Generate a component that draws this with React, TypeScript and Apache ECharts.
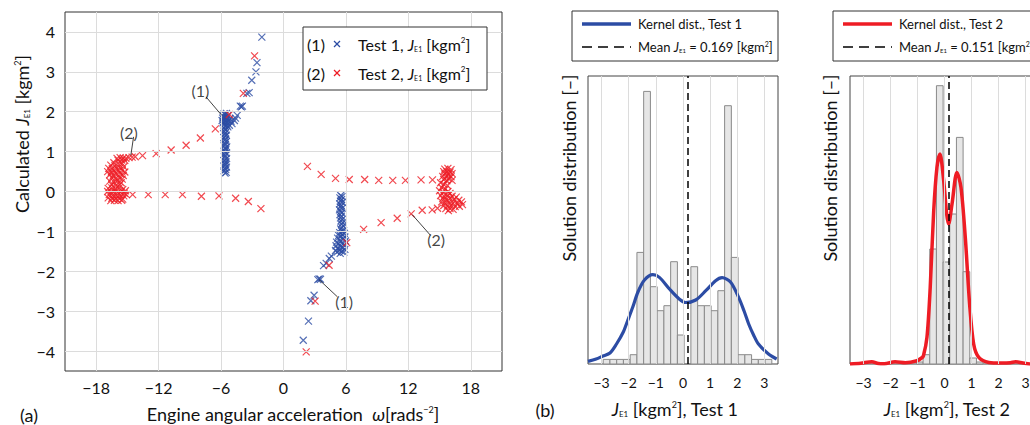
import React, { useEffect, useRef } from 'react';
import * as echarts from 'echarts';

const FONT = 'Lato, "Noto Sans", sans-serif';
const BLUE = '#2c4ca4';
const RED = '#ee1c24';
const INK = '#111111';

// ---------- panel (a) ----------
const xTicksA = [-18, -12, -6, 0, 6, 12, 18];
const yTicksA = [-4, -3, -2, -1, 0, 1, 2, 3, 4];

const test1Points = [
  // cluster near -6 (band)
  [-5.62, 0.46], [-5.5, 0.48], [-5.7, 0.52], [-5.55, 0.55], [-5.66, 0.58], [-5.48, 0.61], [-5.72, 0.64], [-5.58, 0.67],
  [-5.64, 0.71], [-5.52, 0.74], [-5.69, 0.77], [-5.57, 0.8], [-5.47, 0.83], [-5.66, 0.86], [-5.59, 0.9], [-5.73, 0.93],
  [-5.51, 0.96], [-5.63, 0.99], [-5.68, 1.03], [-5.54, 1.06], [-5.61, 1.09], [-5.46, 1.12], [-5.71, 1.15], [-5.58, 1.18],
  [-5.65, 1.22], [-5.5, 1.25], [-5.67, 1.28], [-5.56, 1.31], [-5.74, 1.35], [-5.6, 1.38], [-5.49, 1.41], [-5.66, 1.44],
  [-5.57, 1.47], [-5.7, 1.51], [-5.53, 1.54], [-5.63, 1.57], [-5.76, 1.6], [-5.58, 1.63], [-5.45, 1.66], [-5.68, 1.69],
  // top of band
  [-5.82, 1.72], [-5.62, 1.74], [-5.4, 1.73], [-5.9, 1.78], [-5.72, 1.8], [-5.5, 1.79], [-5.28, 1.77], [-5.85, 1.84],
  [-5.65, 1.86], [-5.45, 1.85], [-5.15, 1.83], [-5.78, 1.9], [-5.58, 1.92], [-5.35, 1.9], [-5.7, 1.95], [-5.48, 1.96],
  [-5.05, 1.76], [-4.95, 1.7], [-5.2, 1.66], [-5.35, 1.62],
  // upper-right tail
  [-4.72, 1.78], [-4.62, 1.84], [-4.45, 1.91], [-4.15, 2.14], [-4.05, 2.12], [-3.95, 2.14], [-3.52, 2.46], [-3.3, 2.48],
  [-3.05, 2.79], [-2.65, 3.0], [-2.55, 3.23], [-2.08, 3.87],
  // cluster near +6 (band)
  [5.5, -0.1], [5.62, -0.13], [5.42, -0.16], [5.58, -0.2], [5.48, -0.24], [5.66, -0.27], [5.4, -0.31], [5.55, -0.35],
  [5.45, -0.39], [5.63, -0.42], [5.38, -0.46], [5.52, -0.5], [5.6, -0.54], [5.42, -0.58], [5.56, -0.62], [5.48, -0.66],
  [5.65, -0.7], [5.52, -0.74], [5.7, -0.78], [5.58, -0.82], [5.75, -0.86], [5.62, -0.9], [5.5, -0.94],
  [5.78, -0.98], [5.6, -1.0], [5.4, -1.03], [5.85, -1.05], [5.68, -1.08], [5.3, -1.1], [5.5, -1.12], [5.9, -1.14],
  [5.2, -1.17], [5.72, -1.19], [5.42, -1.22], [5.95, -1.24], [5.1, -1.27], [5.6, -1.29], [5.3, -1.31], [5.82, -1.34],
  [5.05, -1.36], [5.48, -1.38], [5.7, -1.41], [5.2, -1.43], [5.9, -1.45], [5.38, -1.47], [5.0, -1.48], [5.6, -1.5],
  [5.8, -1.52], [5.15, -1.52], [5.45, -1.55],
  // lower-left tail
  [4.6, -1.62], [4.4, -1.68], [4.1, -1.8], [3.85, -1.86], [3.55, -2.2], [3.42, -2.19], [3.3, -2.21], [2.94, -2.6],
  [2.63, -2.74], [2.4, -3.25], [1.9, -3.73],
];

const test2Points = [
  // left cluster
  [-16.0, 0.83], [-15.7, 0.85], [-15.4, 0.84], [-15.15, 0.83], [-15.9, 0.78], [-15.55, 0.79], [-15.25, 0.78],
  [-16.3, 0.72], [-16.6, 0.66], [-16.2, 0.65], [-15.8, 0.68], [-15.5, 0.7], [-16.8, 0.58], [-16.45, 0.57],
  [-16.05, 0.58], [-15.7, 0.6], [-15.35, 0.62], [-16.9, 0.5], [-16.55, 0.49], [-16.2, 0.5], [-15.85, 0.52],
  [-15.5, 0.53], [-15.25, 0.49], [-16.7, 0.42], [-16.35, 0.41], [-16.0, 0.43], [-15.65, 0.44], [-15.4, 0.4],
  [-16.5, 0.34], [-16.15, 0.33], [-15.8, 0.35], [-15.5, 0.31], [-16.7, 0.26], [-16.3, 0.24], [-15.95, 0.27],
  [-15.6, 0.22], [-16.5, 0.17], [-16.1, 0.15], [-15.75, 0.17], [-16.85, 0.08], [-16.5, 0.09], [-16.15, 0.07],
  [-15.8, 0.09], [-15.45, 0.05], [-15.2, 0.02], [-16.9, 0.0], [-16.6, -0.01], [-16.3, 0.0], [-15.95, -0.02],
  [-15.6, -0.01], [-15.3, -0.04], [-16.75, -0.08], [-16.4, -0.09], [-16.05, -0.1], [-15.7, -0.09], [-15.35, -0.11],
  [-15.1, -0.08], [-16.85, -0.16], [-16.5, -0.17], [-16.15, -0.18], [-15.8, -0.17], [-15.45, -0.19], [-16.6, -0.23],
  [-16.25, -0.22], [-15.9, -0.23], [-15.55, -0.22],
  // upper tail from left cluster
  [-14.85, 0.85], [-14.55, 0.86], [-14.25, 0.87], [-13.55, 0.9], [-12.24, 0.95], [-10.8, 1.04], [-9.36, 1.16],
  [-7.99, 1.34], [-6.55, 1.57], [-5.21, 1.93], [-3.86, 2.46], [-2.78, 3.4],
  // lower tail from left cluster
  [-14.5, -0.08], [-13.0, -0.08], [-11.37, -0.08], [-9.71, -0.08], [-7.89, -0.12], [-6.2, -0.11], [-4.6, -0.17],
  [-3.38, -0.25], [-2.17, -0.43],
  // upper row to right cluster
  [2.3, 0.63], [3.62, 0.43], [5.0, 0.33], [6.32, 0.3], [7.8, 0.3], [9.15, 0.28], [10.5, 0.28], [11.72, 0.28],
  [13.22, 0.29], [14.32, 0.29],
  // right cluster
  [15.5, 0.56], [15.8, 0.58], [16.1, 0.55], [15.4, 0.5], [15.7, 0.5], [16.0, 0.49], [16.2, 0.45], [15.5, 0.44],
  [15.85, 0.42], [15.3, 0.38], [15.6, 0.36], [16.1, 0.37], [15.9, 0.32], [15.4, 0.3], [15.7, 0.27], [16.2, 0.28],
  [15.1, 0.22], [15.4, 0.18], [15.75, 0.15], [15.2, 0.1], [15.55, 0.06], [15.0, 0.02], [15.35, -0.02], [15.8, 0.0],
  [16.0, -0.05], [15.1, -0.1], [15.45, -0.12], [15.8, -0.1], [16.2, -0.12], [16.6, -0.14], [15.3, -0.18],
  [15.65, -0.2], [16.0, -0.18], [16.4, -0.2], [16.85, -0.22], [17.1, -0.26], [15.2, -0.26], [15.5, -0.28],
  [15.9, -0.27], [16.3, -0.29], [16.7, -0.3], [17.2, -0.33], [15.4, -0.35], [15.75, -0.36], [16.1, -0.35],
  [16.5, -0.38], [16.9, -0.37], [15.6, -0.43], [16.0, -0.43], [16.3, -0.45], [15.85, -0.48],
  // lower tail from right cluster
  [14.8, -0.42], [14.29, -0.46], [13.33, -0.47], [12.27, -0.56], [10.93, -0.67], [9.38, -0.78], [7.7, -0.95],
  [6.08, -1.28], [4.38, -1.85], [3.04, -2.75], [2.18, -4.02],
];

const annotationText = ['(1)', '(2)', '(1)', '(2)'];
const annotationAt = [[-7.99, 2.54], [-14.86, 1.47], [5.82, -2.77], [14.67, -1.2]];
const leaderFrom = [[-7.44, 2.37], [-14.41, 1.37], [3.42, -2.21], [12.37, -0.58]];
const leaderTo = [[-5.94, 1.91], [-14.67, 0.91], [5.18, -2.64], [14.13, -1.1]];

// ---------- panel (b) ----------
const histTicks = [-3, -2, -1, 0, 1, 2, 3];

const hist1Start = -2.94;
const hist1Width = 0.2485;
const hist1Counts = [4.6, 4.6, 4.6, 4.6, 9.3, 111.6, 272.6, 77.3, 53.3, 58.3, 102.3, 29, 0, 97.3, 58.3, 58.3,
  53.3, 73.3, 258.3, 106.6, 9.3, 9.3, 4.6, 4.6, 4.6];
const kde1 = [[-3.5, 2.6], [-3.2, 5], [-2.95, 8], [-2.69, 11], [-2.45, 20], [-2.2, 32], [-2.03, 44], [-1.85, 57],
  [-1.66, 72], [-1.42, 84], [-1.11, 89.3], [-0.87, 86.6], [-0.5, 75], [-0.14, 65], [0.1, 61.5], [0.47, 64],
  [0.84, 73.3], [1.2, 83.3], [1.44, 86.3], [1.75, 82], [2.05, 66.6], [2.25, 53], [2.42, 40], [2.6, 29],
  [2.78, 20], [3.15, 10], [3.45, 5]];
const mean1 = 0.169;

const hist2Start = -1.04;
const hist2Width = 0.247;
const hist2Counts = [2, 9.3, 115, 278.3, 102, 150, 226.6, 92.3, 6, 2];
const kde2 = [[-3.5, 0], [-3.1, 0.8], [-2.69, 2.3], [-2.45, 0.5], [-2.23, 0.3], [-1.83, 2.3], [-1.45, 1.3],
  [-1.02, 3.3], [-0.85, 6], [-0.78, 8.3], [-0.65, 26.6], [-0.53, 76], [-0.4, 153], [-0.28, 196.6], [-0.17, 210],
  [-0.03, 183.3], [0.08, 150], [0.15, 140], [0.28, 160.3], [0.46, 191.6], [0.61, 176.6], [0.77, 126.6],
  [0.93, 60], [1.08, 20], [1.27, 6.6], [1.64, 1.6], [2.1, 1.0], [2.44, 1.3], [2.63, 2.3], [2.9, 1.0], [3.18, 0],
  [3.5, 0.5]];
const mean2 = 0.151;
const histMax = 288;

const fmt = (v: number) => (v < 0 ? '\u2212' + Math.abs(v) : String(v));

const rich = (size: number) => ({
  j: { fontStyle: 'italic', fontSize: size, fontFamily: FONT, fill: INK },
  sub: { fontSize: Math.round(size * 0.45), fontFamily: FONT, fill: INK, verticalAlign: 'bottom' },
  sup: { fontSize: Math.round(size * 0.5), fontFamily: FONT, fill: INK, verticalAlign: 'top' },
});

function txt(text: string, x: number, y: number, size: number, align = 'center', rotate = 0) {
  return {
    type: 'text', x, y, rotation: rotate, z: 100,
    style: {
      text, fontSize: size, fontFamily: FONT, fill: INK,
      textAlign: align, textVerticalAlign: 'middle', rich: rich(size),
    },
  };
}

function binData(start: number, width: number, counts: number[]) {
  return counts.map((c, i) => [start + i * width, start + (i + 1) * width, c]);
}

const barRender = (params: any, api: any) => {
  const p0 = api.coord([api.value(0), 0]);
  const p1 = api.coord([api.value(1), api.value(2)]);
  return {
    type: 'rect',
    shape: { x: p0[0], y: p1[1], width: p1[0] - p0[0], height: p0[1] - p1[1] },
    style: { fill: '#e6e6e6', stroke: '#8a8a8a', lineWidth: 1 },
  };
};

const crossSymbol = 'path://M0,0L10,10M10,0L0,10';

export default function App() {
  const ref = useRef<HTMLDivElement>(null);
  useEffect(() => {
    if (!ref.current) return;
    const chart = echarts.init(ref.current, undefined, { renderer: 'svg' });

    const tickStyle = { color: '#333', width: 1 };
    const bottomX = (gi: number, min: number, max: number, ticks: number[], fs: number, margin: number) => ({
      type: 'value', gridIndex: gi, min, max, position: 'bottom',
      axisLine: { show: false }, splitLine: { show: false },
      axisTick: { show: true, inside: true, length: 5, customValues: ticks, lineStyle: tickStyle },
      axisLabel: { customValues: ticks, formatter: fmt, fontSize: fs, fontFamily: FONT, color: INK, margin },
    });
    const topX = (gi: number, min: number, max: number, ticks: number[]) => ({
      type: 'value', gridIndex: gi, min, max, position: 'top',
      axisLine: { show: false }, splitLine: { show: false },
      axisTick: { show: true, inside: true, length: 5, customValues: ticks, lineStyle: tickStyle },
      axisLabel: { show: false },
    });

    const gridLines = (xs: number[], ys: number[]) => ({
      silent: true, symbol: ['none', 'none'], label: { show: false },
      lineStyle: { color: '#dcdcdc', width: 1, type: 'solid' },
      emphasis: { disabled: true },
      data: [...xs.map((v) => ({ xAxis: v })), ...ys.map((v) => ({ yAxis: v }))],
    });

    const meanLine = (m: number) => ({
      silent: true, symbol: ['none', 'none'], label: { show: false },
      lineStyle: { color: '#000', width: 1.5, type: [7, 4] },
      emphasis: { disabled: true },
      data: [{ xAxis: m }],
    });

    chart.setOption({
      animation: false,
      grid: [
        { left: 65, top: 12, width: 437, height: 359, show: true, borderColor: '#333', borderWidth: 1, backgroundColor: '#fff' },
        { left: 588, top: 76, width: 190, height: 288, show: true, borderColor: '#444', borderWidth: 1, backgroundColor: '#fff' },
        { left: 850, top: 76, width: 189, height: 288, show: true, borderColor: '#444', borderWidth: 1, backgroundColor: '#fff' },
      ],
      xAxis: [
        bottomX(0, -21, 21, xTicksA, 16, 8),
        topX(0, -21, 21, xTicksA),
        bottomX(1, -3.5, 3.5, histTicks, 14, 11),
        topX(1, -3.5, 3.5, histTicks),
        bottomX(2, -3.5, 3.5, histTicks, 14, 11),
        topX(2, -3.5, 3.5, histTicks),
      ],
      yAxis: [
        {
          type: 'value', gridIndex: 0, min: -4.5, max: 4.5, position: 'left',
          axisLine: { show: false }, splitLine: { show: false },
          axisTick: { show: true, inside: true, length: 5, customValues: yTicksA, lineStyle: tickStyle },
          axisLabel: { customValues: yTicksA, formatter: fmt, fontSize: 16, fontFamily: FONT, color: INK, margin: 10 },
        },
        {
          type: 'value', gridIndex: 0, min: -4.5, max: 4.5, position: 'right',
          axisLine: { show: false }, splitLine: { show: false },
          axisTick: { show: true, inside: true, length: 5, customValues: yTicksA, lineStyle: tickStyle },
          axisLabel: { show: false },
        },
        { type: 'value', gridIndex: 1, min: 0, max: histMax, show: false, splitLine: { show: false } },
        { type: 'value', gridIndex: 2, min: 0, max: histMax, show: false, splitLine: { show: false } },
      ],
      series: [
        {
          type: 'scatter', xAxisIndex: 0, yAxisIndex: 0, data: [], z: 1, silent: true,
          markLine: gridLines(xTicksA, yTicksA),
        },
        {
          name: 'Test 1', type: 'scatter', xAxisIndex: 0, yAxisIndex: 0, data: test1Points, z: 2,
          symbol: crossSymbol, symbolSize: 7, silent: true,
          itemStyle: { color: 'transparent', borderColor: BLUE, borderWidth: 1.2 },
        },
        {
          name: 'Test 2', type: 'scatter', xAxisIndex: 0, yAxisIndex: 0, data: test2Points, z: 3,
          symbol: crossSymbol, symbolSize: 7, silent: true,
          itemStyle: { color: 'transparent', borderColor: RED, borderWidth: 1.2 },
        },
        {
          type: 'scatter', xAxisIndex: 0, yAxisIndex: 0, z: 4, silent: true,
          data: annotationAt.map((p, i) => [p[0], p[1], annotationText[i]]),
          symbolSize: 1, itemStyle: { color: 'transparent' },
          label: {
            show: true, position: 'inside', formatter: (p: any) => p.value[2],
            fontSize: 16, fontFamily: FONT, color: INK,
          },
          markLine: {
            silent: true, symbol: ['none', 'none'], label: { show: false },
            lineStyle: { color: '#111', width: 0.8, type: 'solid' },
            emphasis: { disabled: true },
            data: leaderFrom.map((p, i) => [{ coord: p }, { coord: leaderTo[i] }]),
          },
        },
        // histogram 1
        {
          type: 'scatter', xAxisIndex: 2, yAxisIndex: 2, data: [], z: 1, silent: true,
          markLine: gridLines(histTicks, []),
        },
        {
          type: 'custom', xAxisIndex: 2, yAxisIndex: 2, z: 2, silent: true,
          data: binData(hist1Start, hist1Width, hist1Counts),
          encode: { x: [0, 1], y: 2 }, renderItem: barRender,
        },
        {
          type: 'line', xAxisIndex: 2, yAxisIndex: 2, z: 3, silent: true, data: kde1, smooth: 0.3,
          showSymbol: false, symbol: 'none', lineStyle: { color: BLUE, width: 3.2 },
          markLine: meanLine(mean1),
        },
        // histogram 2
        {
          type: 'scatter', xAxisIndex: 4, yAxisIndex: 3, data: [], z: 1, silent: true,
          markLine: gridLines(histTicks, []),
        },
        {
          type: 'custom', xAxisIndex: 4, yAxisIndex: 3, z: 2, silent: true,
          data: binData(hist2Start, hist2Width, hist2Counts),
          encode: { x: [0, 1], y: 2 }, renderItem: barRender,
        },
        {
          type: 'line', xAxisIndex: 4, yAxisIndex: 3, z: 3, silent: true, data: kde2, smooth: 0.3,
          showSymbol: false, symbol: 'none', lineStyle: { color: RED, width: 3.5 },
          markLine: meanLine(mean2),
        },
      ],
      graphic: [
        // panel (a) legend
        { type: 'rect', z: 99, shape: { x: 303, y: 27, width: 184, height: 63 }, style: { fill: '#fff', stroke: '#333', lineWidth: 1 } },
        txt('(1)', 316, 44, 16),
        { type: 'line', z: 100, shape: { x1: 334, y1: 41, x2: 340, y2: 47 }, style: { stroke: BLUE, lineWidth: 1.2 } },
        { type: 'line', z: 100, shape: { x1: 334, y1: 47, x2: 340, y2: 41 }, style: { stroke: BLUE, lineWidth: 1.2 } },
        txt('Test 1, {j|J}{sub|E1} [kgm{sup|2}]', 358, 44, 16, 'left'),
        txt('(2)', 316, 73, 16),
        { type: 'line', z: 100, shape: { x1: 334, y1: 70, x2: 340, y2: 76 }, style: { stroke: RED, lineWidth: 1.2 } },
        { type: 'line', z: 100, shape: { x1: 334, y1: 76, x2: 340, y2: 70 }, style: { stroke: RED, lineWidth: 1.2 } },
        txt('Test 2, {j|J}{sub|E1} [kgm{sup|2}]', 358, 73, 16, 'left'),
        // panel (a) titles
        txt('Calculated {j|J}{sub|E1} [kgm{sup|2}]', 22, 134, 18, 'center', Math.PI / 2),
        txt('Engine angular acceleration  {j|\u03c9}[rads{sup|\u22122}]', 293, 414, 18),
        txt('(a)', 29, 415, 18),
        // panel (b) legend 1
        { type: 'rect', z: 99, shape: { x: 572, y: 11, width: 206, height: 50 }, style: { fill: '#fff', stroke: '#333', lineWidth: 1 } },
        { type: 'line', z: 100, shape: { x1: 582, y1: 24, x2: 631, y2: 24 }, style: { stroke: BLUE, lineWidth: 3.5 } },
        txt('Kernel dist., Test 1', 638, 24, 13, 'left'),
        { type: 'line', z: 100, shape: { x1: 582, y1: 47, x2: 631, y2: 47 }, style: { stroke: '#000', lineWidth: 1.5, lineDash: [10, 6] } },
        txt('Mean {j|J}{sub|E1} = ' + mean1.toFixed(3) + ' [kgm{sup|2}]', 638, 47, 13, 'left'),
        // panel (b) legend 2 (clipped at the right edge, as in the original figure)
        { type: 'rect', z: 99, shape: { x: 833, y: 11, width: 215, height: 50 }, style: { fill: '#fff', stroke: '#333', lineWidth: 1 } },
        { type: 'line', z: 100, shape: { x1: 843, y1: 24, x2: 892, y2: 24 }, style: { stroke: RED, lineWidth: 3.5 } },
        txt('Kernel dist., Test 2', 899, 24, 13, 'left'),
        { type: 'line', z: 100, shape: { x1: 843, y1: 47, x2: 892, y2: 47 }, style: { stroke: '#000', lineWidth: 1.5, lineDash: [10, 6] } },
        txt('Mean {j|J}{sub|E1} = ' + mean2.toFixed(3) + ' [kgm{sup|2}]', 899, 47, 13, 'left'),
        // panel (b) titles
        txt('Solution distribution [\u2013]', 569, 168, 18, 'center', Math.PI / 2),
        txt('Solution distribution [\u2013]', 830, 168, 18, 'center', Math.PI / 2),
        txt('{j|J}{sub|E1} [kgm{sup|2}], Test 1', 675, 409, 18),
        txt('{j|J}{sub|E1} [kgm{sup|2}], Test 2', 947, 409, 18),
        txt('(b)', 545, 410, 18),
      ],
    });
    return () => chart.dispose();
  }, []);

  return (
    <div style={{ position: 'fixed', left: 0, top: 0, width: 1030, height: 425, overflow: 'hidden', background: '#fff' }}>
      <div ref={ref} style={{ width: 1060, height: 425 }} />
    </div>
  );
}
